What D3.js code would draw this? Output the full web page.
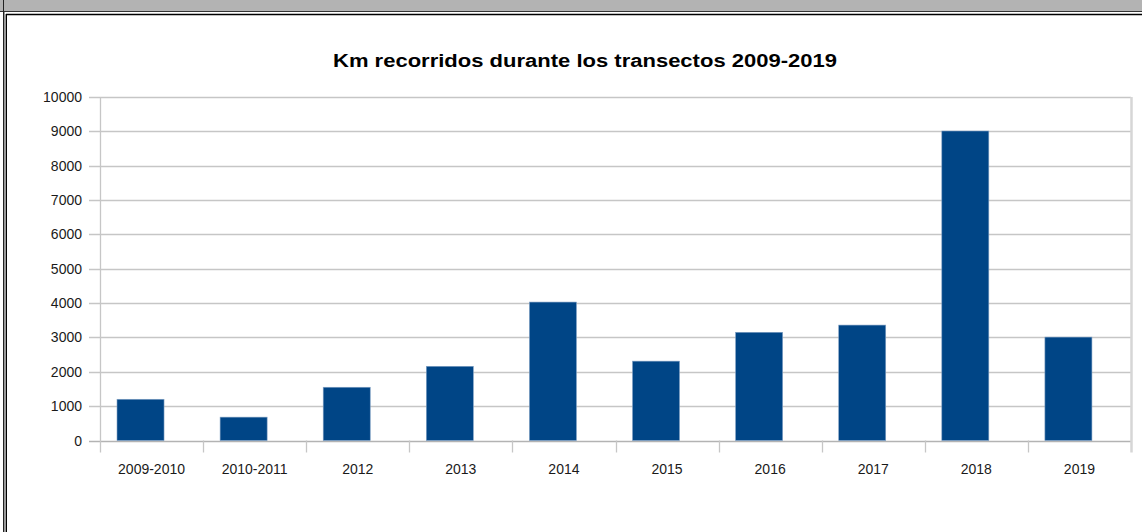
<!DOCTYPE html>
<html>
<head>
<meta charset="utf-8">
<script src="https://cdn.jsdelivr.net/npm/d3@7"></script>
<style>
  html, body { margin: 0; padding: 0; background: #fff; }
  svg { display: block; }
  text { font-family: "Liberation Sans", Arial, sans-serif; fill: #1a1a1a; }
</style>
</head>
<body>
<svg id="chart" width="1142" height="532"></svg>
<script>
const categories = ["2009-2010", "2010-2011", "2012", "2013", "2014", "2015", "2016", "2017", "2018", "2019"];
const kmValues = [1200, 680, 1550, 2160, 4030, 2310, 3150, 3360, 9010, 3010];
const yTicks = [0, 1000, 2000, 3000, 4000, 5000, 6000, 7000, 8000, 9000, 10000];
const title = "Km recorridos durante los transectos 2009-2019";

const W = 1142, H = 532;
const plot = { left: 100, right: 1131, top: 97, bottom: 440.5 };
const svg = d3.select("#chart");

// window frame
svg.append("rect").attr("x", 0).attr("y", 0).attr("width", W).attr("height", 11).attr("fill", "#b3b3b3");
svg.append("line").attr("x1", 0).attr("x2", W).attr("y1", 11.5).attr("y2", 11.5).attr("stroke", "#333").attr("stroke-width", 1);
svg.append("line").attr("x1", 6).attr("x2", W).attr("y1", 14.5).attr("y2", 14.5).attr("stroke", "#000").attr("stroke-width", 1.5);
svg.append("line").attr("x1", 3.5).attr("x2", 3.5).attr("y1", 0).attr("y2", H).attr("stroke", "#222").attr("stroke-width", 1);
svg.append("line").attr("x1", 4.5).attr("x2", 4.5).attr("y1", 12).attr("y2", H).attr("stroke", "#999").attr("stroke-width", 1);
svg.append("line").attr("x1", 6.3).attr("x2", 6.3).attr("y1", 14).attr("y2", H).attr("stroke", "#000").attr("stroke-width", 1.4);

const x = d3.scaleBand().domain(categories).range([plot.left, plot.right]).paddingInner(0).paddingOuter(0);
const y = d3.scaleLinear().domain([0, 10000]).range([plot.bottom, plot.top]);

// gridlines
svg.append("g").selectAll("line").data(yTicks).join("line")
  .attr("x1", plot.left - 11).attr("x2", plot.right)
  .attr("y1", d => Math.round(y(d)) + 0.5).attr("y2", d => Math.round(y(d)) + 0.5)
  .attr("stroke", d => d === 0 ? "#b3b3b3" : "#c6c6c6").attr("stroke-width", 1.3);

// vertical axis lines
svg.append("line").attr("x1", plot.left + 0.5).attr("x2", plot.left + 0.5)
  .attr("y1", plot.top).attr("y2", plot.bottom + 12).attr("stroke", "#c6c6c6").attr("stroke-width", 1.3);
svg.append("line").attr("x1", plot.right + 0.5).attr("x2", plot.right + 0.5)
  .attr("y1", plot.top).attr("y2", plot.bottom + 12).attr("stroke", "#d6d6d6").attr("stroke-width", 2.5);

// category ticks
svg.append("g").selectAll("line").data(categories.slice(1)).join("line")
  .attr("x1", d => Math.round(x(d)) + 0.5).attr("x2", d => Math.round(x(d)) + 0.5)
  .attr("y1", plot.bottom).attr("y2", plot.bottom + 12)
  .attr("stroke", "#c6c6c6").attr("stroke-width", 1.3);

// bars
const bw = x.bandwidth();
svg.append("g").selectAll("rect").data(categories).join("rect")
  .attr("x", d => x(d) + bw * 0.165)
  .attr("width", bw * 0.456)
  .attr("y", (d, i) => y(kmValues[i]))
  .attr("height", (d, i) => y(0) - y(kmValues[i]))
  .attr("fill", "#004586")
  .attr("stroke", "#7f9fc3").attr("stroke-width", 0.6);

// y tick labels
svg.append("g").selectAll("text").data(yTicks).join("text")
  .attr("x", 82).attr("y", d => y(d)).attr("dy", "0.36em")
  .attr("text-anchor", "end").attr("font-size", "14px")
  .text(d => d);

// x labels
svg.append("g").selectAll("text").data(categories).join("text")
  .attr("x", d => x(d) + bw / 2).attr("y", 474)
  .attr("text-anchor", "middle").attr("font-size", "14px")
  .text(d => d);

// title
svg.append("text").attr("x", 585).attr("y", 67).attr("text-anchor", "middle")
  .attr("font-size", "18px").attr("font-weight", "bold").style("fill", "#000")
  .attr("textLength", 504).attr("lengthAdjust", "spacingAndGlyphs")
  .text(title);
</script>
</body>
</html>
